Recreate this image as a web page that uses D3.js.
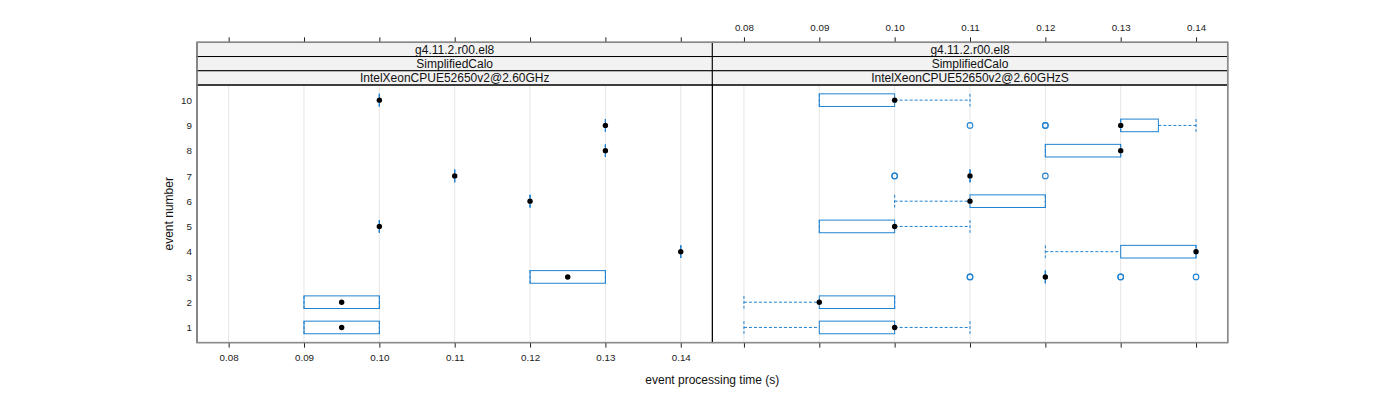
<!DOCTYPE html>
<html>
<head>
<meta charset="utf-8">
<script src="https://cdn.jsdelivr.net/npm/d3@7"></script>
<style>
  html, body { margin: 0; padding: 0; background: #fff; }
  svg { display: block; font-family: "Liberation Sans", Arial, Helvetica, sans-serif; }
</style>
</head>
<body>
<svg id="chart" width="1400" height="400"></svg>
<script>
// ---------- data ----------
const events = [1, 2, 3, 4, 5, 6, 7, 8, 9, 10];
const xTicks = [0.08, 0.09, 0.10, 0.11, 0.12, 0.13, 0.14];
const stripVersion = "g4.11.2.r00.el8";
const stripTest = "SimplifiedCalo";
const cpuNames = ["IntelXeonCPUE52650v2@2.60GHz", "IntelXeonCPUE52650v2@2.60GHzS"];

// panel 1 : IntelXeonCPUE52650v2@2.60GHz
const p1Min = [0.09, 0.09, 0.12, 0.14, 0.10, 0.12, 0.11, 0.13, 0.13, 0.10];
const p1Q1  = [0.09, 0.09, 0.12, 0.14, 0.10, 0.12, 0.11, 0.13, 0.13, 0.10];
const p1Med = [0.095, 0.095, 0.125, 0.14, 0.10, 0.12, 0.11, 0.13, 0.13, 0.10];
const p1Q3  = [0.10, 0.10, 0.13, 0.14, 0.10, 0.12, 0.11, 0.13, 0.13, 0.10];
const p1Max = [0.10, 0.10, 0.13, 0.14, 0.10, 0.12, 0.11, 0.13, 0.13, 0.10];
const p1Out = [[], [], [], [], [], [], [], [], [], []];

// panel 2 : IntelXeonCPUE52650v2@2.60GHzS
const p2Min = [0.08, 0.08, 0.12, 0.12, 0.09, 0.10, 0.11, 0.12, 0.13, 0.09];
const p2Q1  = [0.09, 0.09, 0.12, 0.13, 0.09, 0.11, 0.11, 0.12, 0.13, 0.09];
const p2Med = [0.10, 0.09, 0.12, 0.14, 0.10, 0.11, 0.11, 0.13, 0.13, 0.10];
const p2Q3  = [0.10, 0.10, 0.12, 0.14, 0.10, 0.12, 0.11, 0.13, 0.135, 0.10];
const p2Max = [0.11, 0.10, 0.12, 0.14, 0.11, 0.12, 0.11, 0.13, 0.14, 0.11];
const p2Out = [[], [], [0.11, 0.11, 0.13, 0.13, 0.14], [], [], [], [0.10, 0.10, 0.12], [], [0.11, 0.12, 0.12], []];

// ---------- layout ----------
const svg = d3.select("#chart");
const panelLeft = [197, 712.3];
const panelW = 515.4;
const panelTop = 85, panelBottom = 342.6;
const stripTop = 42.3, stripH = (panelTop - stripTop) / 3;
const blue = "#1f82d0";
const fontTick = "9.8px", fontBig = "12px";

const yScale = d3.scaleLinear().domain([0.4, 10.6]).range([panelBottom, panelTop]);
const boxHalf = (yScale(0) - yScale(0.5)) / 2;

const panels = [
  {min: p1Min, q1: p1Q1, med: p1Med, q3: p1Q3, max: p1Max, out: p1Out, cpu: cpuNames[0]},
  {min: p2Min, q1: p2Q1, med: p2Med, q3: p2Q3, max: p2Max, out: p2Out, cpu: cpuNames[1]}
];

panels.forEach((p, i) => {
  const x0 = panelLeft[i];
  const xs = d3.scaleLinear().domain([0.0758, 0.1442]).range([x0, x0 + panelW]);
  const g = svg.append("g");

  // grid
  g.selectAll("line.grid").data(xTicks).enter().append("line")
    .attr("x1", d => xs(d)).attr("x2", d => xs(d))
    .attr("y1", panelTop).attr("y2", panelBottom)
    .attr("stroke", "#e6e6e6").attr("stroke-width", 1);

  // strips
  [stripVersion, stripTest, p.cpu].forEach((txt, k) => {
    const sy = stripTop + k * stripH;
    g.append("rect").attr("x", x0).attr("y", sy).attr("width", panelW).attr("height", stripH)
      .attr("fill", "#f2f2f2").attr("stroke", "#000").attr("stroke-width", 1);
    g.append("text").attr("x", x0 + panelW / 2).attr("y", sy + stripH / 2)
      .attr("dy", "0.36em").attr("text-anchor", "middle")
      .attr("font-size", fontBig).attr("fill", "#111").text(txt);
  });

  const rows = events.map((e, j) => ({e, min: p.min[j], q1: p.q1[j], med: p.med[j], q3: p.q3[j], max: p.max[j], out: p.out[j]}));

  // whiskers
  const dash = "3,2";
  rows.forEach(r => {
    const yc = yScale(r.e);
    if (r.min < r.q1) g.append("line").attr("x1", xs(r.min)).attr("x2", xs(r.q1)).attr("y1", yc).attr("y2", yc)
      .attr("stroke", blue).attr("stroke-dasharray", dash);
    if (r.max > r.q3) g.append("line").attr("x1", xs(r.q3)).attr("x2", xs(r.max)).attr("y1", yc).attr("y2", yc)
      .attr("stroke", blue).attr("stroke-dasharray", dash);
    [r.min, r.max].forEach(v => {
      g.append("line").attr("x1", xs(v)).attr("x2", xs(v)).attr("y1", yc - boxHalf).attr("y2", yc + boxHalf)
        .attr("stroke", blue).attr("stroke-dasharray", dash);
    });
    // box
    g.append("rect").attr("x", xs(r.q1)).attr("y", yc - boxHalf)
      .attr("width", Math.max(0, xs(r.q3) - xs(r.q1))).attr("height", 2 * boxHalf)
      .attr("fill", "none").attr("stroke", blue).attr("stroke-width", 1);
    if (r.q1 === r.q3) g.append("line").attr("x1", xs(r.q1)).attr("x2", xs(r.q1))
      .attr("y1", yc - boxHalf).attr("y2", yc + boxHalf).attr("stroke", blue).attr("stroke-width", 1.2);
    // outliers (repeated values drawn on top of each other)
    r.out.forEach(v => {
      g.append("circle").attr("cx", xs(v)).attr("cy", yc).attr("r", 2.8)
        .attr("fill", "none").attr("stroke", blue).attr("stroke-width", 1.1);
    });
    // median dot
    g.append("circle").attr("cx", xs(r.med)).attr("cy", yc).attr("r", 2.7).attr("fill", "#000");
  });

  // panel border (black)
  g.append("rect").attr("x", x0).attr("y", panelTop).attr("width", panelW).attr("height", panelBottom - panelTop)
    .attr("fill", "none").attr("stroke", "#000").attr("stroke-width", 1);

  // axes
  const bottom = d3.axisBottom(xs).tickValues(xTicks).tickSize(5).tickPadding(6.5)
    .tickFormat(i === 0 ? d3.format(".2f") : () => "");
  const top = d3.axisTop(xs).tickValues(xTicks).tickSize(5).tickPadding(6.5)
    .tickFormat(i === 1 ? d3.format(".2f") : () => "");
  const ga = svg.append("g").attr("transform", `translate(0,${panelBottom})`).call(bottom);
  const gt = svg.append("g").attr("transform", `translate(0,${stripTop})`).call(top);
  [ga, gt].forEach(a => {
    a.select(".domain").remove();
    a.selectAll(".tick line").attr("stroke", "#222");
    a.selectAll(".tick text").attr("font-size", fontTick).attr("fill", "#222")
      .attr("font-family", "Liberation Sans, Arial, sans-serif");
  });

  if (i === 0) {
    const left = d3.axisLeft(yScale).tickValues(events).tickSize(0).tickPadding(5).tickFormat(d3.format("d"));
    const gl = svg.append("g").attr("transform", `translate(${x0},0)`).call(left);
    gl.select(".domain").remove();
    gl.selectAll(".tick text").attr("font-size", fontTick).attr("fill", "#222")
      .attr("font-family", "Liberation Sans, Arial, sans-serif");
  }
});

// outer frame (gray)
svg.append("rect").attr("x", panelLeft[0]).attr("y", stripTop)
  .attr("width", panelLeft[1] + panelW - panelLeft[0]).attr("height", panelBottom - stripTop)
  .attr("fill", "none").attr("stroke", "#8a8a8a").attr("stroke-width", 1.5);

// axis titles
svg.append("text").attr("x", (panelLeft[0] + panelLeft[1] + panelW) / 2).attr("y", 380)
  .attr("dy", "0.36em").attr("text-anchor", "middle").attr("font-size", fontBig).attr("fill", "#111")
  .text("event processing time (s)");
svg.append("text").attr("transform", `translate(169,${(panelTop + panelBottom) / 2}) rotate(-90)`)
  .attr("dy", "0.36em").attr("text-anchor", "middle").attr("font-size", fontBig).attr("fill", "#111")
  .text("event number");
</script>
</body>
</html>
